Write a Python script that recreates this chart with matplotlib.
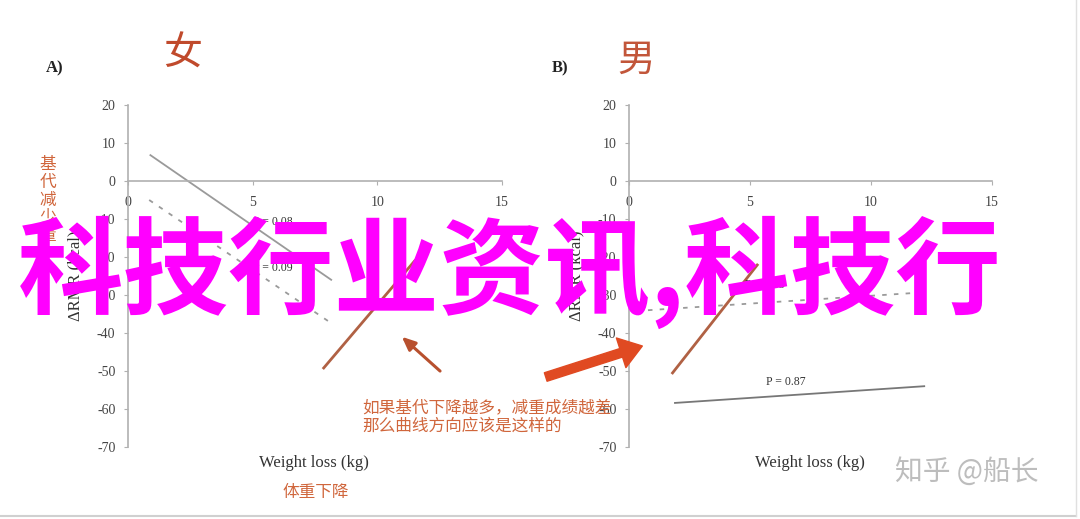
import matplotlib
matplotlib.use("Agg")
import matplotlib.pyplot as plt
from matplotlib.lines import Line2D

plt.rcParams['axes.unicode_minus'] = False

CJK = ['Noto Sans CJK SC', 'DejaVu Sans']
SERIF = 'Liberation Serif'

# ---- data ----
x_ticks = [0, 5, 10, 15]
y_ticks = [20, 10, 0, -10, -20, -30, -40, -50, -60, -70]

women_solid_x = [0.9, 8.15]
women_solid_y = [6.8, -26.0]
women_dash_x = [0.85, 8.15]
women_dash_y = [-5.0, -37.4]
women_trend_x = [7.85, 11.5]
women_trend_y = [-49.2, -21.0]

men_solid_x = [1.9, 12.2]
men_solid_y = [-58.4, -54.0]
men_dash_x = [0.3, 11.7]
men_dash_y = [-34.2, -29.5]
men_trend_x = [1.8, 5.3]
men_trend_y = [-50.5, -22.1]

women_labels = [("P = 0.08", 5.0, -10.8), ("P = 0.09", 5.0, -23.0)]
men_labels = [("P = 0.05", 5.6, -27.4), ("P = 0.87", 6.5, -53.0)]

GRAY = '#9a9a9a'
ORANGE = '#d0663c'
BROWN = '#a8502f'


def setup_axes(ax):
    ax.set_xlim(0, 15)
    ax.set_ylim(-70, 20)
    ax.spines['top'].set_visible(False)
    ax.spines['right'].set_visible(False)
    ax.spines['bottom'].set_position(('data', 0))
    for s in ('left', 'bottom'):
        ax.spines[s].set_color('#b0b0b0')
        ax.spines[s].set_linewidth(1.2)
    ax.set_xticks(x_ticks)
    ax.set_yticks(y_ticks)
    ax.tick_params(axis='both', colors='#b0b0b0', labelcolor='#444444',
                   length=3, labelsize=10)
    ax.tick_params(axis='x', pad=8)
    ax.tick_params(axis='y', pad=6)
    for lab in ax.get_xticklabels() + ax.get_yticklabels():
        lab.set_family(SERIF)
    ax.patch.set_alpha(0)


fig = plt.figure(figsize=(10.8, 5.19), dpi=100)

ax1 = fig.add_axes([0.1185, 0.1387, 0.3463, 0.659])
ax2 = fig.add_axes([0.5824, 0.1387, 0.3361, 0.659])
setup_axes(ax1)
setup_axes(ax2)

# women panel
ax1.plot(women_solid_x, women_solid_y, color=GRAY, lw=1.3)
ax1.plot(women_dash_x, women_dash_y, color=GRAY, lw=1.3, ls=(0, (2.5, 4)))
ax1.plot(women_trend_x, women_trend_y, color=BROWN, lw=2.0, alpha=0.9)
for txt, x, y in women_labels:
    ax1.text(x, y, txt, family=SERIF, fontsize=8.5, color='#333333',
             ha='left', va='center')
ax1.annotate('', xy=(10.9, -40.5), xytext=(12.6, -50.5),
             arrowprops=dict(arrowstyle='-|>,head_length=0.8,head_width=0.35',
                             color='#b8502e', lw=2.2), annotation_clip=False)

# men panel
ax2.plot(men_solid_x, men_solid_y, color='#777777', lw=1.3)
ax2.plot(men_dash_x, men_dash_y, color=GRAY, lw=1.3, ls=(0, (2.5, 4)))
ax2.plot(men_trend_x, men_trend_y, color=BROWN, lw=2.0, alpha=0.9)
for txt, x, y in men_labels:
    ax2.text(x, y, txt, family=SERIF, fontsize=8.5, color='#333333',
             ha='center', va='center')
ax2.annotate('', xy=(0.66, -43.2), xytext=(-3.55, -51.8),
             arrowprops=dict(arrowstyle='simple,head_length=1.0,head_width=1.4,tail_width=0.4',
                             color='#e04a22', mutation_scale=16), annotation_clip=False)

# axis labels
for ax, xc in ((ax1, 314), (ax2, 810)):
    fig.text(xc / 1080, 1 - 463 / 519, 'Weight loss (kg)', family=SERIF,
             fontsize=12, color='#333333', ha='center', va='center')
fig.text(75 / 1080, 1 - 276 / 519, 'ΔRMR (kcal)', family=SERIF, fontsize=12,
         color='#333333', rotation=90, ha='center', va='center')
fig.text(576 / 1080, 1 - 276 / 519, 'ΔRMR (kcal)', family=SERIF, fontsize=12,
         color='#333333', rotation=90, ha='center', va='center')
fig.text(48 / 1080, 1 - 200 / 519, '基\n代\n减\n少\n量', family=CJK, fontsize=12,
         color=ORANGE, ha='center', va='center', linespacing=1.05)
fig.text(316 / 1080, 1 - 492 / 519, '体重下降', family=CJK, fontsize=12,
         color=ORANGE, ha='center', va='center')

# panel titles
fig.text(55 / 1080, 1 - 68 / 519, 'A)', family=SERIF, fontsize=12,
         weight='bold', color='#222222', ha='center', va='center')
fig.text(560 / 1080, 1 - 68 / 519, 'B)', family=SERIF, fontsize=12,
         weight='bold', color='#222222', ha='center', va='center')
fig.text(183 / 1080, 1 - 54 / 519, '女', family=CJK, fontsize=28,
         color='#c04a2c', ha='center', va='center')
fig.text(636 / 1080, 1 - 60 / 519, '男', family=CJK, fontsize=27,
         color='#c2563a', ha='center', va='center')

# explanation
fig.text(362 / 1080, 1 - 417 / 519,
         '如果基代下降越多，减重成绩越差\n那么曲线方向应该是这样的',
         family=CJK, fontsize=12, color=ORANGE, ha='left', va='center',
         linespacing=1.1)

# watermark
fig.text(967 / 1080, 1 - 472 / 519, '知乎 @船长', family=CJK, fontsize=20,
         color='#bdbdbd', ha='center', va='center', weight='light')

# overlay banner
fig.text(18 / 1080, 1 - 272 / 519, '科技行业资讯,科技行', family=CJK,
         fontsize=76, weight='bold', color='#ff00ff', ha='left', va='center',
         zorder=10)

# faint frame
fig.add_artist(Line2D([0, 0.996], [0.006, 0.006], color='#d0d0d0', lw=1.5))
fig.add_artist(Line2D([0.996, 0.996], [0.006, 1], color='#e0e0e0', lw=1.0))

fig.savefig('out.png', dpi=100)
